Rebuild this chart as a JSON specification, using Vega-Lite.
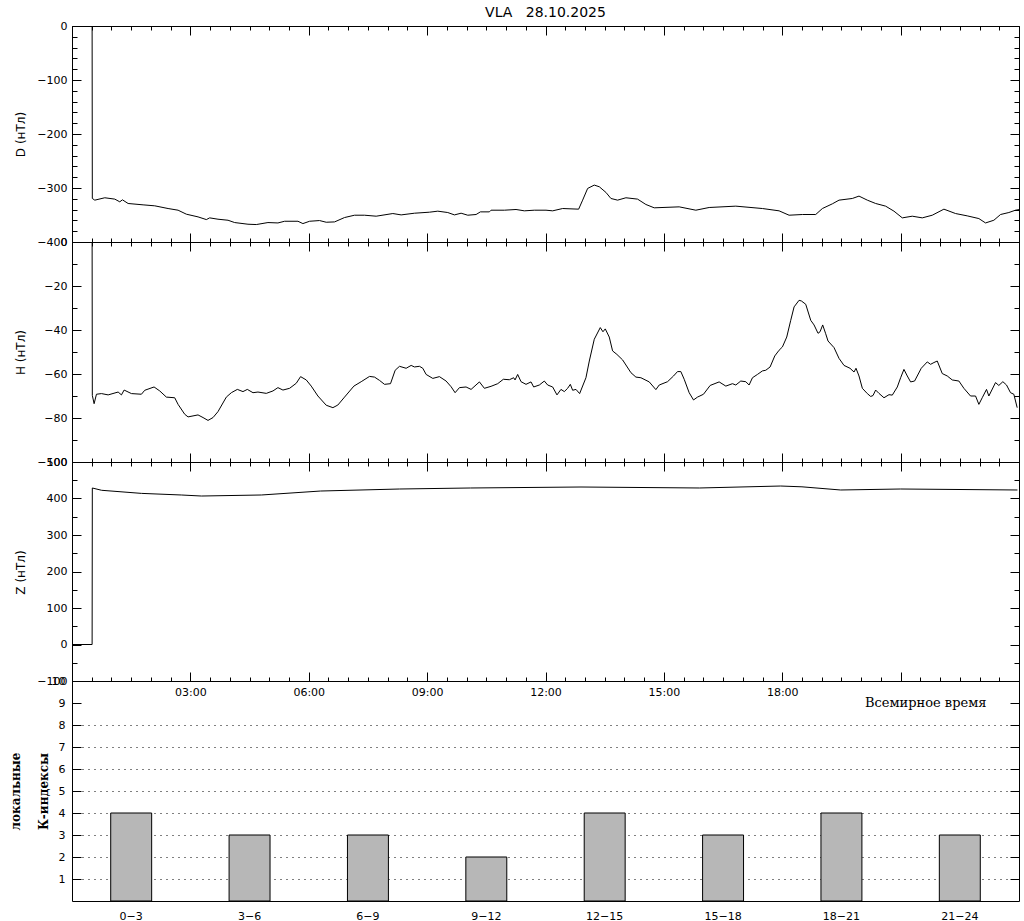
{
  "$schema": "https://vega.github.io/schema/vega-lite/v6.json",
  "background": "white",
  "autosize": {"type": "pad"},
  "padding": 0,
  "spacing": 0,
  "bounds": "flush",
  "datasets": {
    "D": [
      {"t":0,"v":0},{"t":0.51,"v":0},{"t":0.515,"v":-319.4},{"t":0.578,"v":-322.5},{"t":0.831,"v":-318.1},{"t":1.084,"v":-320.6},{"t":1.211,"v":-325.6},{"t":1.278,"v":-321.9},{"t":1.422,"v":-328.7},{"t":1.802,"v":-331.2},{"t":2.097,"v":-333.0},{"t":2.435,"v":-338.0},{"t":2.688,"v":-341.1},{"t":2.899,"v":-348.5},{"t":3.194,"v":-353.5},{"t":3.405,"v":-358.5},{"t":3.489,"v":-355.3},{"t":3.7,"v":-357.8},{"t":3.954,"v":-359.7},{"t":4.122,"v":-364.0},{"t":4.46,"v":-367.1},{"t":4.671,"v":-367.7},{"t":4.966,"v":-364.0},{"t":5.219,"v":-364.7},{"t":5.388,"v":-361.6},{"t":5.726,"v":-361.6},{"t":5.852,"v":-365.9},{"t":6.021,"v":-361.6},{"t":6.274,"v":-360.3},{"t":6.443,"v":-363.4},{"t":6.654,"v":-362.8},{"t":6.907,"v":-354.7},{"t":7.16,"v":-350.4},{"t":7.413,"v":-350.4},{"t":7.709,"v":-352.2},{"t":8.131,"v":-347.3},{"t":8.342,"v":-349.8},{"t":8.679,"v":-346.7},{"t":9.059,"v":-344.8},{"t":9.27,"v":-342.9},{"t":9.523,"v":-345.4},{"t":9.692,"v":-349.8},{"t":9.861,"v":-346.7},{"t":10.03,"v":-350.4},{"t":10.241,"v":-349.1},{"t":10.35,"v":-344.2},{"t":10.578,"v":-344.2},{"t":10.62,"v":-341.1},{"t":10.958,"v":-341.1},{"t":11.253,"v":-339.8},{"t":11.464,"v":-342.3},{"t":11.717,"v":-341.1},{"t":12.013,"v":-341.1},{"t":12.181,"v":-342.3},{"t":12.435,"v":-338.0},{"t":12.84,"v":-339.2},{"t":12.941,"v":-322.5},{"t":13.068,"v":-300.8},{"t":13.236,"v":-294.6},{"t":13.363,"v":-297.7},{"t":13.532,"v":-308.2},{"t":13.658,"v":-319.4},{"t":13.827,"v":-322.5},{"t":14.038,"v":-318.1},{"t":14.333,"v":-320.6},{"t":14.544,"v":-330.5},{"t":14.755,"v":-336.7},{"t":15.388,"v":-334.9},{"t":15.81,"v":-341.1},{"t":16.148,"v":-336.1},{"t":16.823,"v":-333.6},{"t":17.498,"v":-338.0},{"t":17.92,"v":-342.3},{"t":18.173,"v":-350.4},{"t":18.511,"v":-349.1},{"t":18.848,"v":-349.1},{"t":19.017,"v":-338.0},{"t":19.27,"v":-329.3},{"t":19.439,"v":-322.5},{"t":19.776,"v":-319.4},{"t":19.945,"v":-315.0},{"t":20.156,"v":-322.5},{"t":20.367,"v":-328.7},{"t":20.62,"v":-333.6},{"t":20.831,"v":-342.9},{"t":21.042,"v":-355.3},{"t":21.295,"v":-352.2},{"t":21.549,"v":-355.3},{"t":21.802,"v":-350.4},{"t":22.097,"v":-339.2},{"t":22.392,"v":-347.3},{"t":22.688,"v":-351.6},{"t":22.983,"v":-356.6},{"t":23.152,"v":-364.7},{"t":23.363,"v":-359.7},{"t":23.532,"v":-349.1},{"t":23.743,"v":-345.4},{"t":23.911,"v":-341.1},{"t":24,"v":-340.0}
    ],
    "H": [
      {"t":0,"v":0},{"t":0.51,"v":0},{"t":0.515,"v":-69.7},{"t":0.56,"v":-73.5},{"t":0.62,"v":-69.2},{"t":0.747,"v":-68.9},{"t":0.916,"v":-69.5},{"t":1.169,"v":-68.2},{"t":1.253,"v":-69.5},{"t":1.321,"v":-67.3},{"t":1.506,"v":-68.9},{"t":1.759,"v":-69.2},{"t":1.844,"v":-67.4},{"t":2.08,"v":-65.9},{"t":2.224,"v":-67.7},{"t":2.392,"v":-70.5},{"t":2.603,"v":-70.8},{"t":2.688,"v":-73.8},{"t":2.857,"v":-78.3},{"t":2.941,"v":-79.5},{"t":3.194,"v":-78.6},{"t":3.321,"v":-79.8},{"t":3.447,"v":-81.1},{"t":3.574,"v":-79.8},{"t":3.7,"v":-77.1},{"t":3.911,"v":-70.5},{"t":4.038,"v":-68.5},{"t":4.19,"v":-67.0},{"t":4.333,"v":-68.0},{"t":4.443,"v":-67.0},{"t":4.587,"v":-68.5},{"t":4.713,"v":-68.2},{"t":4.924,"v":-68.8},{"t":5.093,"v":-67.7},{"t":5.219,"v":-66.2},{"t":5.346,"v":-67.3},{"t":5.515,"v":-66.5},{"t":5.684,"v":-64.2},{"t":5.793,"v":-61.2},{"t":5.937,"v":-62.7},{"t":6.063,"v":-65.5},{"t":6.232,"v":-70.0},{"t":6.443,"v":-74.2},{"t":6.612,"v":-75.3},{"t":6.738,"v":-74.1},{"t":6.907,"v":-70.5},{"t":7.144,"v":-65.5},{"t":7.329,"v":-63.5},{"t":7.54,"v":-61.1},{"t":7.667,"v":-61.4},{"t":7.793,"v":-62.9},{"t":7.92,"v":-64.7},{"t":8.072,"v":-64.4},{"t":8.19,"v":-58.3},{"t":8.3,"v":-56.5},{"t":8.468,"v":-57.4},{"t":8.595,"v":-56.1},{"t":8.679,"v":-56.8},{"t":8.806,"v":-56.5},{"t":8.89,"v":-57.4},{"t":8.975,"v":-60.2},{"t":9.144,"v":-62.0},{"t":9.312,"v":-61.2},{"t":9.481,"v":-63.2},{"t":9.608,"v":-65.8},{"t":9.709,"v":-68.5},{"t":9.819,"v":-66.2},{"t":9.987,"v":-65.9},{"t":10.114,"v":-67.0},{"t":10.325,"v":-63.6},{"t":10.451,"v":-66.5},{"t":10.62,"v":-65.6},{"t":10.789,"v":-64.4},{"t":10.932,"v":-62.4},{"t":11.084,"v":-62.6},{"t":11.194,"v":-61.7},{"t":11.228,"v":-62.7},{"t":11.295,"v":-60.2},{"t":11.38,"v":-63.5},{"t":11.506,"v":-64.7},{"t":11.633,"v":-63.6},{"t":11.7,"v":-65.9},{"t":11.844,"v":-65.0},{"t":11.97,"v":-63.2},{"t":12.055,"v":-65.0},{"t":12.181,"v":-65.9},{"t":12.291,"v":-69.5},{"t":12.392,"v":-67.0},{"t":12.477,"v":-68.0},{"t":12.561,"v":-66.5},{"t":12.629,"v":-64.7},{"t":12.688,"v":-67.4},{"t":12.772,"v":-67.0},{"t":12.865,"v":-68.9},{"t":13.025,"v":-61.7},{"t":13.11,"v":-54.1},{"t":13.236,"v":-44.2},{"t":13.388,"v":-38.9},{"t":13.456,"v":-40.8},{"t":13.515,"v":-39.5},{"t":13.616,"v":-43.2},{"t":13.7,"v":-49.5},{"t":13.81,"v":-51.1},{"t":13.954,"v":-53.6},{"t":14.165,"v":-59.4},{"t":14.291,"v":-61.4},{"t":14.418,"v":-61.7},{"t":14.629,"v":-63.6},{"t":14.797,"v":-67.1},{"t":14.882,"v":-65.0},{"t":15.093,"v":-63.5},{"t":15.245,"v":-60.9},{"t":15.346,"v":-58.9},{"t":15.43,"v":-58.9},{"t":15.515,"v":-62.4},{"t":15.641,"v":-68.5},{"t":15.751,"v":-71.8},{"t":15.852,"v":-70.5},{"t":16.004,"v":-69.2},{"t":16.173,"v":-65.2},{"t":16.401,"v":-63.6},{"t":16.57,"v":-65.5},{"t":16.738,"v":-64.4},{"t":16.823,"v":-65.0},{"t":16.949,"v":-63.2},{"t":17.076,"v":-63.5},{"t":17.16,"v":-65.0},{"t":17.245,"v":-61.7},{"t":17.371,"v":-60.2},{"t":17.498,"v":-58.6},{"t":17.582,"v":-58.3},{"t":17.692,"v":-56.8},{"t":17.81,"v":-51.8},{"t":17.92,"v":-49.2},{"t":18.004,"v":-47.7},{"t":18.114,"v":-43.2},{"t":18.215,"v":-35.6},{"t":18.3,"v":-29.5},{"t":18.426,"v":-26.5},{"t":18.485,"v":-26.8},{"t":18.595,"v":-28.3},{"t":18.722,"v":-35.6},{"t":18.806,"v":-37.7},{"t":18.907,"v":-41.5},{"t":18.958,"v":-40.8},{"t":19.025,"v":-37.7},{"t":19.101,"v":-41.7},{"t":19.16,"v":-45.0},{"t":19.312,"v":-48.0},{"t":19.439,"v":-52.9},{"t":19.565,"v":-56.1},{"t":19.717,"v":-57.4},{"t":19.819,"v":-59.1},{"t":19.869,"v":-57.4},{"t":19.945,"v":-60.9},{"t":20.03,"v":-66.5},{"t":20.156,"v":-68.9},{"t":20.241,"v":-70.2},{"t":20.3,"v":-69.8},{"t":20.367,"v":-67.3},{"t":20.451,"v":-68.8},{"t":20.578,"v":-70.8},{"t":20.705,"v":-69.4},{"t":20.789,"v":-69.6},{"t":20.916,"v":-65.9},{"t":21.0,"v":-61.7},{"t":21.084,"v":-57.9},{"t":21.169,"v":-60.9},{"t":21.253,"v":-63.6},{"t":21.354,"v":-63.2},{"t":21.523,"v":-57.4},{"t":21.675,"v":-54.5},{"t":21.759,"v":-55.6},{"t":21.844,"v":-54.8},{"t":21.928,"v":-54.1},{"t":22.055,"v":-59.8},{"t":22.182,"v":-60.9},{"t":22.308,"v":-62.7},{"t":22.477,"v":-63.2},{"t":22.603,"v":-66.5},{"t":22.772,"v":-70.0},{"t":22.899,"v":-70.0},{"t":22.983,"v":-73.8},{"t":23.068,"v":-70.8},{"t":23.177,"v":-67.0},{"t":23.236,"v":-70.0},{"t":23.405,"v":-63.9},{"t":23.489,"v":-65.2},{"t":23.591,"v":-63.5},{"t":23.684,"v":-65.0},{"t":23.785,"v":-68.5},{"t":23.869,"v":-69.2},{"t":23.954,"v":-75.3}
    ],
    "Z": [
      {"t":0,"v":0},{"t":0.51,"v":0},{"t":0.515,"v":428.8},{"t":0.75,"v":422.5},{"t":1.76,"v":414.0},{"t":2.77,"v":409.6},{"t":3.28,"v":406.8},{"t":4.8,"v":409.6},{"t":6.3,"v":420.5},{"t":8.3,"v":426.0},{"t":10.1,"v":428.8},{"t":12.9,"v":431.5},{"t":15.9,"v":428.8},{"t":17.96,"v":434.2},{"t":18.5,"v":432.0},{"t":19.48,"v":423.3},{"t":21.0,"v":426.0},{"t":23.96,"v":423.3}
    ],
    "K": [
      {"p":"0−3","k":4},{"p":"3−6","k":3},{"p":"6−9","k":3},{"p":"9−12","k":2},{"p":"12−15","k":4},{"p":"15−18","k":3},{"p":"18−21","k":4},{"p":"21−24","k":3}
    ]
  },
  "vconcat": [
    {
      "width": 947, "height": 216,
      "title": {"text": "VLA\u00a0\u00a0\u00a028.10.2025", "frame": "group", "anchor": "middle", "font": "DejaVu Sans", "fontSize": 14, "fontWeight": "normal", "color": "black", "offset": 0},
      "data": {"name": "D"},
      "layer": [
        {
          "mark": {"type": "line", "color": "black", "strokeWidth": 1, "clip": true},
          "encoding": {
            "x": {"field": "t", "type": "quantitative", "scale": {"domain": [0, 24], "nice": false, "zero": false},
                  "axis": {"orient": "bottom", "title": null, "labels": false, "values": [0,0.5,1,1.5,2,2.5,3,3.5,4,4.5,5,5.5,6,6.5,7,7.5,8,8.5,9,9.5,10,10.5,11,11.5,12,12.5,13,13.5,14,14.5,15,15.5,16,16.5,17,17.5,18,18.5,19,19.5,20,20.5,21,21.5,22,22.5,23,23.5,24],
                           "tickSize": {"condition": {"test": "datum.value % 3 === 0", "value": -9}, "value": -4}}},
            "y": {"field": "v", "type": "quantitative", "scale": {"domain": [-400, 0], "nice": false, "zero": false},
                  "axis": {"orient": "left", "values": [-400,-380,-360,-340,-320,-300,-280,-260,-240,-220,-200,-180,-160,-140,-120,-100,-80,-60,-40,-20,0],
                           "labelExpr": "datum.value % 100 === 0 ? datum.label : ''",
                           "tickSize": {"condition": {"test": "datum.value % 100 === 0", "value": -9}, "value": -5},
                           "labelPadding": 14,
                           "title": "D (нТл)", "titleX": -48, "titleY": 108, "titleAngle": -90, "titleBaseline": "alphabetic", "titleAlign": "center"}}
          }
        },
        {
          "mark": {"type": "line", "opacity": 0},
          "encoding": {
            "x": {"field": "t", "type": "quantitative",
                  "axis": {"orient": "top", "title": null, "labels": false, "values": [0,0.5,1,1.5,2,2.5,3,3.5,4,4.5,5,5.5,6,6.5,7,7.5,8,8.5,9,9.5,10,10.5,11,11.5,12,12.5,13,13.5,14,14.5,15,15.5,16,16.5,17,17.5,18,18.5,19,19.5,20,20.5,21,21.5,22,22.5,23,23.5,24],
                           "tickSize": {"condition": {"test": "datum.value % 3 === 0", "value": -9}, "value": -4}}},
            "y": {"field": "v", "type": "quantitative",
                  "axis": {"orient": "right", "title": null, "labels": false, "values": [-400,-380,-360,-340,-320,-300,-280,-260,-240,-220,-200,-180,-160,-140,-120,-100,-80,-60,-40,-20,0],
                           "tickSize": {"condition": {"test": "datum.value % 100 === 0", "value": -9}, "value": -5}}}
          }
        }
      ],
      "resolve": {"axis": {"x": "independent", "y": "independent"}}
    },
    {
      "width": 947, "height": 220,
      "data": {"name": "H"},
      "layer": [
        {
          "mark": {"type": "line", "color": "black", "strokeWidth": 1, "clip": true},
          "encoding": {
            "x": {"field": "t", "type": "quantitative", "scale": {"domain": [0, 24], "nice": false, "zero": false},
                  "axis": {"orient": "bottom", "title": null, "labels": false, "values": [0,0.5,1,1.5,2,2.5,3,3.5,4,4.5,5,5.5,6,6.5,7,7.5,8,8.5,9,9.5,10,10.5,11,11.5,12,12.5,13,13.5,14,14.5,15,15.5,16,16.5,17,17.5,18,18.5,19,19.5,20,20.5,21,21.5,22,22.5,23,23.5,24],
                           "tickSize": {"condition": {"test": "datum.value % 3 === 0", "value": -9}, "value": -4}}},
            "y": {"field": "v", "type": "quantitative", "scale": {"domain": [-100, 0], "nice": false, "zero": false},
                  "axis": {"orient": "left", "values": [-100,-90,-80,-70,-60,-50,-40,-30,-20,-10,0],
                           "labelExpr": "datum.value % 20 === 0 ? datum.label : ''",
                           "tickSize": {"condition": {"test": "datum.value % 20 === 0", "value": -9}, "value": -5},
                           "labelPadding": 14,
                           "title": "H (нТл)", "titleX": -48, "titleY": 110, "titleAngle": -90, "titleBaseline": "alphabetic", "titleAlign": "center"}}
          }
        },
        {
          "mark": {"type": "line", "opacity": 0},
          "encoding": {
            "x": {"field": "t", "type": "quantitative",
                  "axis": {"orient": "top", "title": null, "labels": false, "values": [0,0.5,1,1.5,2,2.5,3,3.5,4,4.5,5,5.5,6,6.5,7,7.5,8,8.5,9,9.5,10,10.5,11,11.5,12,12.5,13,13.5,14,14.5,15,15.5,16,16.5,17,17.5,18,18.5,19,19.5,20,20.5,21,21.5,22,22.5,23,23.5,24],
                           "tickSize": {"condition": {"test": "datum.value % 3 === 0", "value": -9}, "value": -4}}},
            "y": {"field": "v", "type": "quantitative",
                  "axis": {"orient": "right", "title": null, "labels": false, "values": [-100,-90,-80,-70,-60,-50,-40,-30,-20,-10,0],
                           "tickSize": {"condition": {"test": "datum.value % 20 === 0", "value": -9}, "value": -5}}}
          }
        }
      ],
      "resolve": {"axis": {"x": "independent", "y": "independent"}}
    },
    {
      "width": 947, "height": 219,
      "data": {"name": "Z"},
      "layer": [
        {
          "mark": {"type": "line", "color": "black", "strokeWidth": 1, "clip": true},
          "encoding": {
            "x": {"field": "t", "type": "quantitative", "scale": {"domain": [0, 24], "nice": false, "zero": false},
                  "axis": {"orient": "bottom", "values": [0,0.5,1,1.5,2,2.5,3,3.5,4,4.5,5,5.5,6,6.5,7,7.5,8,8.5,9,9.5,10,10.5,11,11.5,12,12.5,13,13.5,14,14.5,15,15.5,16,16.5,17,17.5,18,18.5,19,19.5,20,20.5,21,21.5,22,22.5,23,23.5,24],
                           "labelExpr": "indexof([3,6,9,12,15,18], datum.value) >= 0 ? (datum.value < 10 ? '0' : '') + datum.value + ':00' : ''",
                           "labelPadding": 14, "labelBaseline": "top",
                           "tickSize": {"condition": {"test": "datum.value % 3 === 0", "value": -9}, "value": -4},
                           "title": "Всемирное время", "titleFont": "DejaVu Serif", "titleFontSize": 13, "titleFontWeight": "normal",
                           "titleX": 914, "titleY": 25, "titleAlign": "right", "titleBaseline": "alphabetic", "titleAnchor": "end"}},
            "y": {"field": "v", "type": "quantitative", "scale": {"domain": [-100, 500], "nice": false, "zero": false},
                  "axis": {"orient": "left", "values": [-100,-50,0,50,100,150,200,250,300,350,400,450,500],
                           "labelExpr": "datum.value % 100 === 0 ? datum.label : ''",
                           "tickSize": {"condition": {"test": "datum.value % 100 === 0", "value": -9}, "value": -5},
                           "labelPadding": 14,
                           "title": "Z (нТл)", "titleX": -48, "titleY": 110, "titleAngle": -90, "titleBaseline": "alphabetic", "titleAlign": "center"}}
          }
        },
        {
          "mark": {"type": "line", "opacity": 0},
          "encoding": {
            "x": {"field": "t", "type": "quantitative",
                  "axis": {"orient": "top", "title": null, "labels": false, "values": [0,0.5,1,1.5,2,2.5,3,3.5,4,4.5,5,5.5,6,6.5,7,7.5,8,8.5,9,9.5,10,10.5,11,11.5,12,12.5,13,13.5,14,14.5,15,15.5,16,16.5,17,17.5,18,18.5,19,19.5,20,20.5,21,21.5,22,22.5,23,23.5,24],
                           "tickSize": {"condition": {"test": "datum.value % 3 === 0", "value": -9}, "value": -4}}},
            "y": {"field": "v", "type": "quantitative",
                  "axis": {"orient": "right", "title": null, "labels": false, "values": [-100,-50,0,50,100,150,200,250,300,350,400,450,500],
                           "tickSize": {"condition": {"test": "datum.value % 100 === 0", "value": -9}, "value": -5}}}
          }
        }
      ],
      "resolve": {"axis": {"x": "independent", "y": "independent"}}
    },
    {
      "width": 947, "height": 220,
      "data": {"name": "K"},
      "layer": [
        {
          "mark": {"type": "bar", "fill": "#b7b7b7", "stroke": "black", "strokeWidth": 1},
          "encoding": {
            "x": {"field": "p", "type": "nominal", "sort": null, "scale": {"paddingInner": 0.654, "paddingOuter": 0.327},
                  "axis": {"orient": "bottom", "title": null, "ticks": false, "labelAngle": 0, "labelPadding": 9, "labelBaseline": "top"}},
            "y": {"field": "k", "type": "quantitative", "scale": {"domain": [0, 10], "nice": false, "zero": false},
                  "axis": {"orient": "left", "values": [1,2,3,4,5,6,7,8,9,10], "tickSize": -9, "labelPadding": 16,
                           "title": ["локальные", "К-индексы"], "titleFont": "DejaVu Serif", "titleFontWeight": "bold", "titleFontSize": 12,
                           "titleLineHeight": 28, "titleX": -53, "titleY": 110, "titleAngle": -90, "titleBaseline": "alphabetic", "titleAlign": "center"}}
          }
        },
        {
          "mark": {"type": "bar", "opacity": 0},
          "encoding": {
            "x": {"field": "p", "type": "nominal", "sort": null},
            "y": {"field": "k", "type": "quantitative",
                  "axis": {"orient": "right", "labels": false, "values": [1,2,3,4,5,6,7,8,9], "tickSize": -9,
                           "grid": true, "gridColor": "black", "gridDash": [1, 5], "gridWidth": 1,
                           "gridOpacity": {"condition": {"test": "datum.value > 8.5", "value": 0}, "value": 1},
                           "title": ".", "titleOpacity": 0, "titleFontSize": 10, "titleAngle": 0,
                           "titleX": -1018, "titleY": -680, "titleAlign": "left", "titleBaseline": "top"}}
          }
        }
      ],
      "resolve": {"axis": {"y": "independent"}}
    }
  ],
  "config": {
    "view": {"stroke": "black", "strokeWidth": 1},
    "axis": {
      "domain": false, "grid": false,
      "labelFont": "DejaVu Sans", "labelFontSize": 11, "labelColor": "black",
      "tickColor": "black", "tickWidth": 1,
      "labelOverlap": false, "labelFlush": false, "labelBound": false,
      "titleFont": "DejaVu Sans", "titleFontSize": 12, "titleFontWeight": "normal", "titleColor": "black"
    }
  }
}
